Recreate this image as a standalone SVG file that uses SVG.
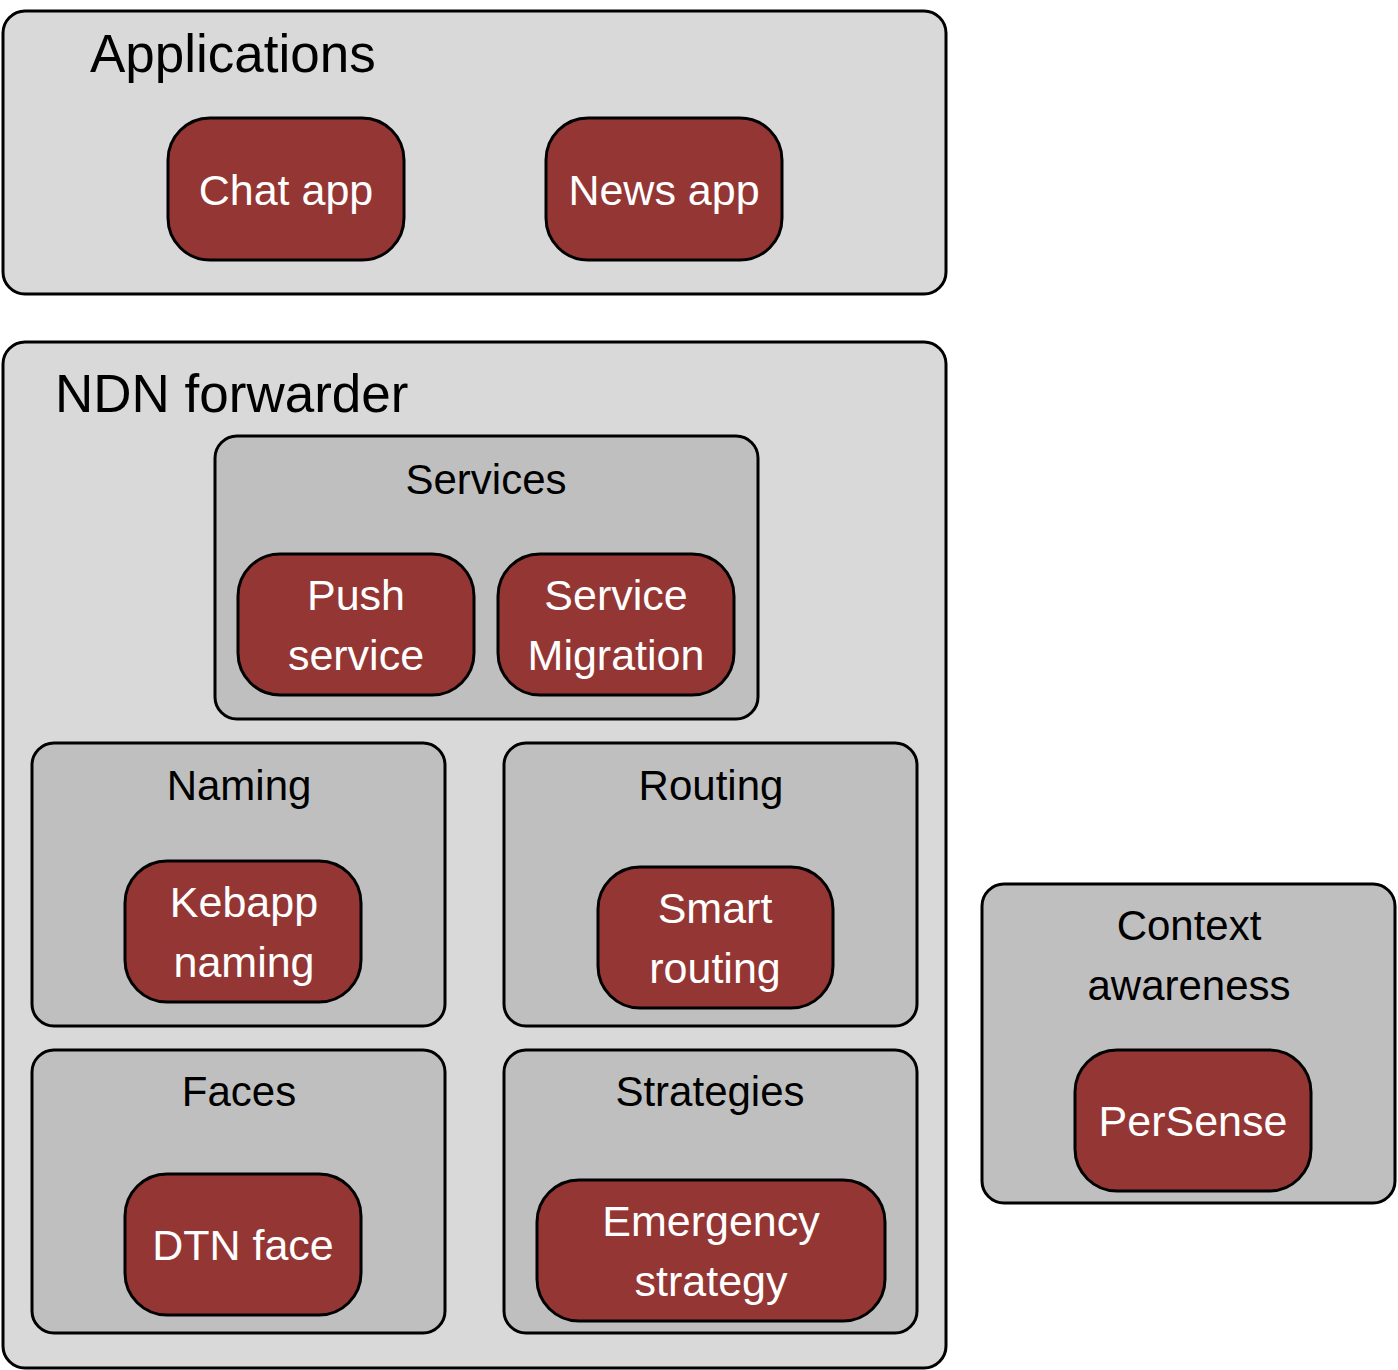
<svg xmlns="http://www.w3.org/2000/svg" width="1398" height="1370" viewBox="0 0 1398 1370">
<style>
.outer{fill:#d9d9d9;stroke:#000;stroke-width:3}
.inner{fill:#bfbfbf;stroke:#000;stroke-width:3}
.node{fill:#943634;stroke:#000;stroke-width:3}
text{font-family:"Liberation Sans",Arial,sans-serif;text-anchor:middle}
.big{font-size:53px;fill:#000;text-anchor:start}
.lbl{font-size:42px;fill:#000}
.nt{font-size:43px;fill:#fff}
</style>
<rect width="1398" height="1370" fill="#fff"/>
<g id="applications">
<rect class="outer" x="3" y="11" width="943" height="283" rx="22"/>
<text class="big" x="90" y="72">Applications</text>
</g>
<g id="chat-app">
<rect class="node" x="168" y="118" width="236" height="142" rx="42"/>
<text class="nt" x="286" y="205">Chat app</text>
</g>
<g id="news-app">
<rect class="node" x="546" y="118" width="236" height="142" rx="42"/>
<text class="nt" x="664" y="205">News app</text>
</g>
<g id="ndn-forwarder">
<rect class="outer" x="3" y="342" width="943" height="1026" rx="22"/>
<text class="big" x="55" y="412">NDN forwarder</text>
</g>
<g id="services">
<rect class="inner" x="215" y="436" width="543" height="283" rx="22"/>
<text class="lbl" x="486" y="494">Services</text>
</g>
<g id="push-service">
<rect class="node" x="238" y="554" width="236" height="141" rx="42"/>
<text class="nt" x="356" y="610">Push</text>
<text class="nt" x="356" y="670">service</text>
</g>
<g id="service-migration">
<rect class="node" x="498" y="554" width="236" height="141" rx="42"/>
<text class="nt" x="616" y="610">Service</text>
<text class="nt" x="616" y="670">Migration</text>
</g>
<g id="naming">
<rect class="inner" x="32" y="743" width="413" height="283" rx="22"/>
<text class="lbl" x="239" y="800">Naming</text>
</g>
<g id="kebapp-naming">
<rect class="node" x="125" y="861" width="236" height="141" rx="42"/>
<text class="nt" x="244" y="917">Kebapp</text>
<text class="nt" x="244" y="977">naming</text>
</g>
<g id="routing">
<rect class="inner" x="504" y="743" width="413" height="283" rx="22"/>
<text class="lbl" x="711" y="800">Routing</text>
</g>
<g id="smart-routing">
<rect class="node" x="598" y="867" width="235" height="141" rx="42"/>
<text class="nt" x="715" y="923">Smart</text>
<text class="nt" x="715" y="983">routing</text>
</g>
<g id="faces">
<rect class="inner" x="32" y="1050" width="413" height="283" rx="22"/>
<text class="lbl" x="239" y="1106">Faces</text>
</g>
<g id="dtn-face">
<rect class="node" x="125" y="1174" width="236" height="141" rx="42"/>
<text class="nt" x="243" y="1260">DTN face</text>
</g>
<g id="strategies">
<rect class="inner" x="504" y="1050" width="413" height="283" rx="22"/>
<text class="lbl" x="710" y="1106">Strategies</text>
</g>
<g id="emergency-strategy">
<rect class="node" x="537" y="1180" width="348" height="141" rx="42"/>
<text class="nt" x="711" y="1236">Emergency</text>
<text class="nt" x="711" y="1296">strategy</text>
</g>
<g id="context-awareness">
<rect class="inner" x="982" y="884" width="413" height="319" rx="22"/>
<text class="lbl" x="1189" y="940">Context</text>
<text class="lbl" x="1189" y="1000">awareness</text>
</g>
<g id="persense">
<rect class="node" x="1075" y="1050" width="236" height="141" rx="42"/>
<text class="nt" x="1193" y="1136">PerSense</text>
</g>
<g id="connectors"></g>
</svg>
